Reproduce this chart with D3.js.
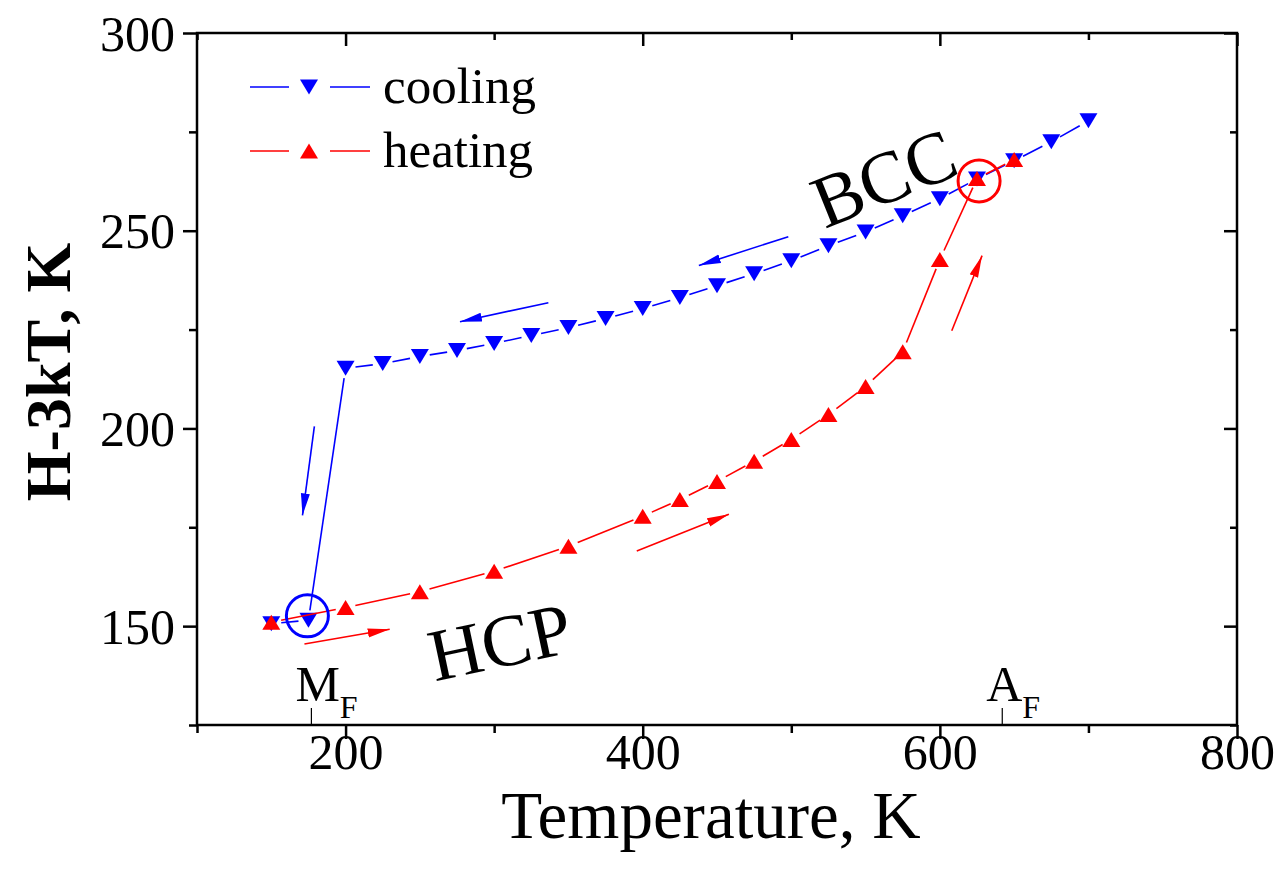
<!DOCTYPE html>
<html>
<head>
<meta charset="utf-8">
<script src="https://cdn.jsdelivr.net/npm/d3@7"></script>
<style>
  body { margin: 0; background: #fff; }
  text, tspan { font-family: "Liberation Serif", "Times New Roman", serif; fill: #000; }
</style>
</head>
<body>
<svg width="1283" height="874"></svg>
<script>
// data
const coolT = [700, 675, 650, 625, 600, 575, 550, 525, 500, 475, 450, 425, 400, 375, 350, 325, 300, 275, 250, 225, 200, 175, 150];
const coolH = [277.8, 272.5, 267.7, 263.1, 258.1, 253.8, 249.7, 246.2, 242.4, 239.1, 236.1, 233.1, 230.3, 227.8, 225.5, 223.5, 221.5, 219.7, 218.2, 216.4, 215.2, 151.5, 150.6];
const heatT = [150, 200, 250, 300, 350, 400, 425, 450, 475, 500, 525, 550, 575, 600, 625, 650];
const heatH = [151.0, 154.7, 158.7, 163.9, 170.2, 177.8, 182.0, 186.6, 191.7, 197.2, 203.5, 210.6, 219.4, 242.7, 263.2, 268.0];

const xTicks = [200, 400, 600, 800];
const xMinor = [100, 300, 500, 700];
const yTicks = [150, 200, 250, 300];
const yMinor = [125, 175, 225, 275];

// arrows: [T1, H1, T2, H2]
const blueArrows = [[498, 248.5, 437.8, 241.2], [336.5, 231.8, 277, 227.0], [179, 200.5, 171, 178.0]];
const redArrows = [[172.3, 145.5, 229.7, 149.2], [396, 169.0, 458, 178.3], [608, 224.7, 628.4, 243.7]];
// circled points
const circles = [{T: 174.3, H: 152.6, c: "blue"}, {T: 626.4, H: 262.6, c: "red"}];
// transition temperatures
const marks = [{T: 177, name: "M"}, {T: 642, name: "A"}];

const blue = "#0000ff", red = "#ff0000";

// plot box
const box = {left: 197, right: 1237, top: 33, bottom: 725};

const svg = d3.select("svg");

const x = d3.scaleLinear().domain([100, 800]).range([box.left, box.right]);
const y = d3.scaleLinear().domain([125, 300]).range([box.bottom, box.top]);

// defs for arrow heads
const defs = svg.append("defs");
[["ab", blue], ["ar", red]].forEach(([id, col]) => {
  defs.append("marker")
    .attr("id", id)
    .attr("markerUnits", "userSpaceOnUse")
    .attr("viewBox", "0 -5 22 10")
    .attr("refX", 22).attr("refY", 0)
    .attr("markerWidth", 22).attr("markerHeight", 10)
    .attr("orient", "auto")
    .append("path")
    .attr("d", "M0,-4.5L22,0L0,4.5Z")
    .attr("fill", col);
});

// Axes
const axisW = 2.5;
function noDomain(g) {
  g.select(".domain").remove();
  g.selectAll("line").attr("stroke-width", axisW);
}
svg.append("g")
  .attr("transform", `translate(0, ${box.bottom})`)
  .call(d3.axisBottom(x).tickValues(xTicks).tickSize(14).tickFormat(d3.format("d")))
  .call(noDomain)
  .call(g => g.selectAll("text").attr("font-size", 50).attr("dy", null).attr("y", 44));
svg.append("g")
  .attr("transform", `translate(0, ${box.bottom})`)
  .call(d3.axisBottom(x).tickValues(xMinor).tickSize(8).tickFormat(""))
  .call(noDomain);

svg.append("g")
  .attr("transform", `translate(${box.left}, 0)`)
  .call(d3.axisLeft(y).tickValues(yTicks).tickSize(14).tickFormat(d3.format("d")))
  .call(noDomain)
  .call(g => g.selectAll("text").attr("font-size", 50).attr("x", -22).attr("dy", "0.34em"));
svg.append("g")
  .attr("transform", `translate(${box.left}, 0)`)
  .call(d3.axisLeft(y).tickValues(yMinor).tickSize(8).tickFormat(""))
  .call(noDomain);

// top and right: inward ticks
svg.append("g")
  .attr("transform", `translate(0, ${box.top})`)
  .call(d3.axisTop(x).tickValues(xTicks).tickSize(-13).tickFormat(""))
  .call(noDomain);
svg.append("g")
  .attr("transform", `translate(0, ${box.top})`)
  .call(d3.axisTop(x).tickValues(xMinor).tickSize(-7).tickFormat(""))
  .call(noDomain);
svg.append("g")
  .attr("transform", `translate(${box.right}, 0)`)
  .call(d3.axisRight(y).tickValues(yTicks).tickSize(-13).tickFormat(""))
  .call(noDomain);
svg.append("g")
  .attr("transform", `translate(${box.right}, 0)`)
  .call(d3.axisRight(y).tickValues(yMinor).tickSize(-7).tickFormat(""))
  .call(noDomain);

// frame
svg.append("rect")
  .attr("x", box.left).attr("y", box.top)
  .attr("width", box.right - box.left).attr("height", box.bottom - box.top)
  .attr("fill", "none").attr("stroke", "#000").attr("stroke-width", axisW);

// axis titles
svg.append("text")
  .attr("x", (box.left + box.right) / 2 - 6).attr("y", 838)
  .attr("text-anchor", "middle")
  .attr("font-size", 67)
  .text("Temperature, K");
svg.append("text")
  .attr("transform", "translate(70, 372) rotate(-90)")
  .attr("text-anchor", "middle")
  .attr("font-size", 64)
  .attr("font-weight", "bold")
  .text("H-3kT, K");

// transition marks on the x axis
marks.forEach(m => {
  svg.append("line")
    .attr("x1", x(m.T)).attr("x2", x(m.T))
    .attr("y1", box.bottom - 17).attr("y2", box.bottom)
    .attr("stroke", "#000").attr("stroke-width", 1.2);
  const t = svg.append("text")
    .attr("x", x(m.T) - 16).attr("y", box.bottom - 24)
    .attr("font-size", 50)
    .attr("fill", "#000");
  t.append("tspan").attr("fill", "#000").text(m.name);
  t.append("tspan").attr("fill", "#000").attr("font-size", 32).attr("dy", 17).text("F");
});

// lines with gaps around the markers
function gapLines(T, H, col) {
  const pts = T.map((t, i) => [x(t), y(H[i])]);
  const segs = [];
  for (let i = 0; i < pts.length - 1; i++) {
    const [x1, y1] = pts[i], [x2, y2] = pts[i + 1];
    const len = Math.hypot(x2 - x1, y2 - y1), g = 10;
    if (len <= 2 * g) continue;
    const ux = (x2 - x1) / len, uy = (y2 - y1) / len;
    segs.push([x1 + ux * g, y1 + uy * g, x2 - ux * g, y2 - uy * g]);
  }
  svg.append("g").selectAll("line")
    .data(segs)
    .join("line")
    .attr("x1", d => d[0]).attr("y1", d => d[1])
    .attr("x2", d => d[2]).attr("y2", d => d[3])
    .attr("stroke", col).attr("stroke-width", 1.6);
}

const triDown = "M-9,-7.5L9,-7.5L0,7.5Z";
const triUp = "M-9,7.5L9,7.5L0,-7.5Z";

gapLines(coolT, coolH, blue);
svg.append("g").selectAll("path")
  .data(coolT)
  .join("path")
  .attr("transform", (d, i) => `translate(${x(d)}, ${y(coolH[i])})`)
  .attr("d", triDown)
  .attr("fill", blue);

gapLines(heatT, heatH, red);
svg.append("g").selectAll("path")
  .data(heatT)
  .join("path")
  .attr("transform", (d, i) => `translate(${x(d)}, ${y(heatH[i])})`)
  .attr("d", triUp)
  .attr("fill", red);

// circles round the transition points
svg.append("g").selectAll("circle")
  .data(circles)
  .join("circle")
  .attr("cx", d => x(d.T)).attr("cy", d => y(d.H))
  .attr("r", 21)
  .attr("fill", "none")
  .attr("stroke", d => d.c === "blue" ? blue : red)
  .attr("stroke-width", 3);

// arrows
function arrows(list, col, id) {
  svg.append("g").selectAll("line")
    .data(list)
    .join("line")
    .attr("x1", d => x(d[0])).attr("y1", d => y(d[1]))
    .attr("x2", d => x(d[2])).attr("y2", d => y(d[3]))
    .attr("stroke", col).attr("stroke-width", 1.6)
    .attr("marker-end", `url(#${id})`);
}
arrows(blueArrows, blue, "ab");
arrows(redArrows, red, "ar");

// phase labels
svg.append("text")
  .attr("transform", "translate(884, 178) rotate(-22)")
  .attr("text-anchor", "middle")
  .attr("dominant-baseline", "central")
  .attr("font-size", 74)
  .text("BCC");
svg.append("text")
  .attr("transform", "translate(500, 642) rotate(-12)")
  .attr("text-anchor", "middle")
  .attr("dominant-baseline", "central")
  .attr("font-size", 74)
  .text("HCP");

// legend
const legend = [{label: "cooling", col: blue, shape: triDown, y: 87},
                {label: "heating", col: red, shape: triUp, y: 151}];
const lg = svg.append("g");
legend.forEach(d => {
  lg.append("line").attr("x1", 250).attr("x2", 289).attr("y1", d.y).attr("y2", d.y)
    .attr("stroke", d.col).attr("stroke-width", 1.6);
  lg.append("line").attr("x1", 330).attr("x2", 370).attr("y1", d.y).attr("y2", d.y)
    .attr("stroke", d.col).attr("stroke-width", 1.6);
  lg.append("path").attr("transform", `translate(309, ${d.y})`)
    .attr("d", d.shape).attr("fill", d.col);
  lg.append("text").attr("x", 383).attr("y", d.y + 16)
    .attr("font-size", 51)
    .text(d.label);
});
</script>
</body>
</html>
